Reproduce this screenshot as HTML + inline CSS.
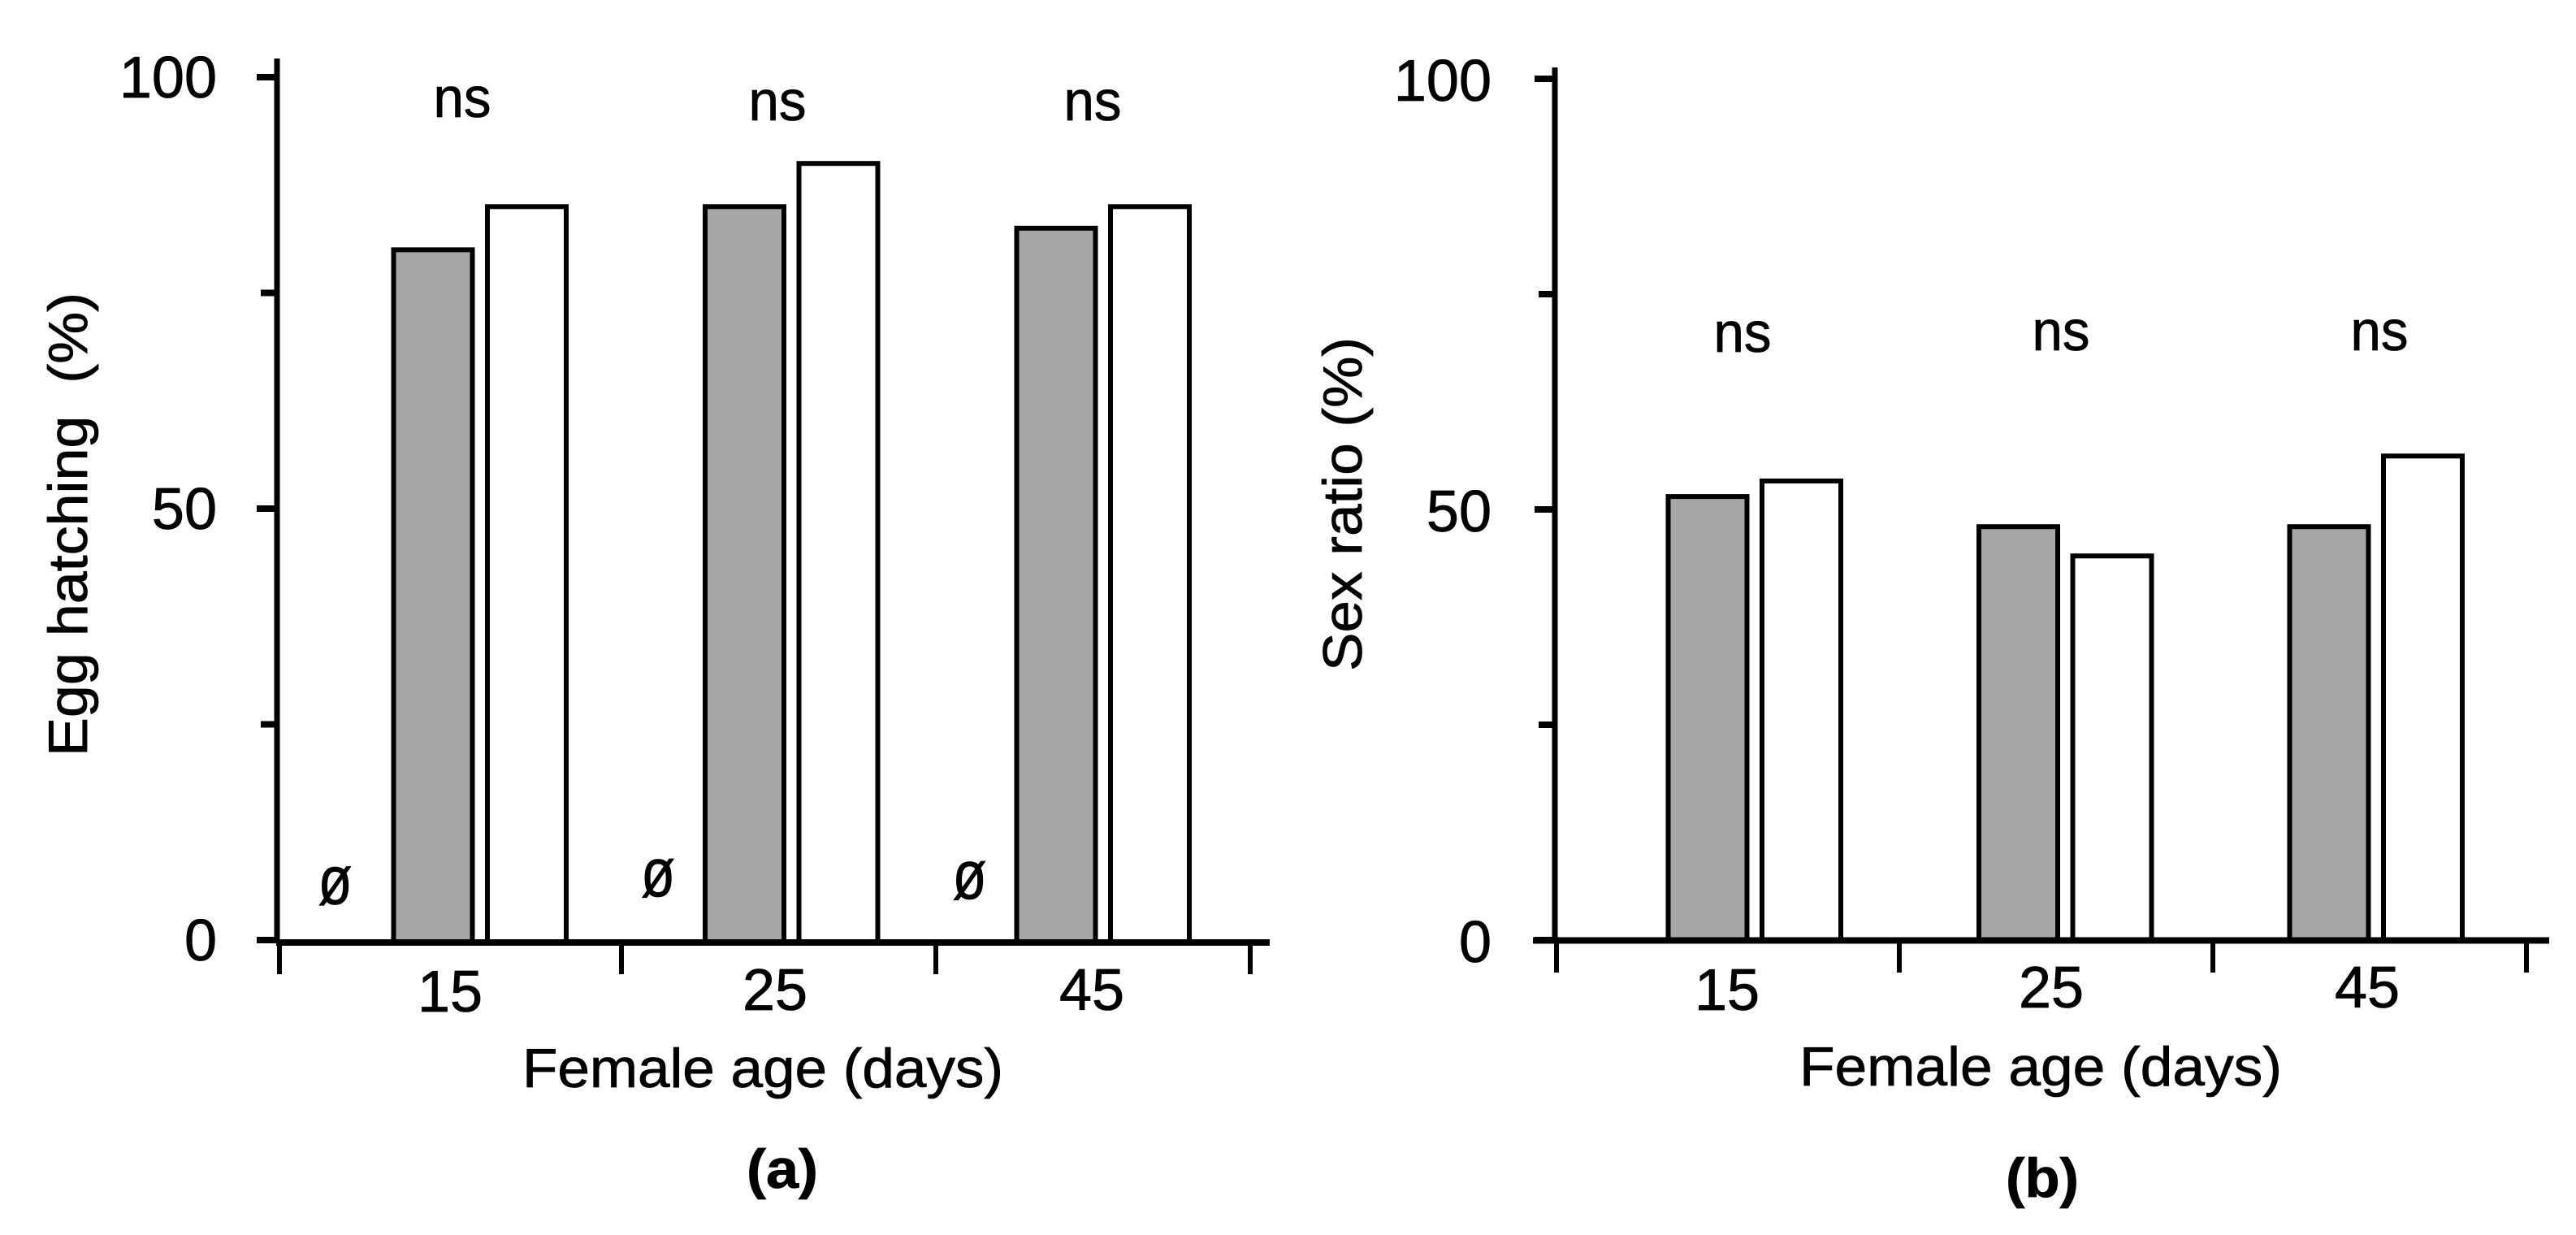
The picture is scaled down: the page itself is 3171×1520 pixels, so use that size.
<!DOCTYPE html>
<html lang="en">
<head>
<meta charset="utf-8">
<title>Egg hatching and sex ratio by female age</title>
<style>
  html, body { margin: 0; padding: 0; background: #fff; }
  svg { display: block; }
  text { font-family: "Liberation Sans", sans-serif; fill: #000; stroke: #000; stroke-width: 0.8px; }
</style>
</head>
<body>
<svg id="figure" xmlns="http://www.w3.org/2000/svg" width="3171" height="1520" viewBox="0 0 3171 1520">
  <rect x="0" y="0" width="3171" height="1520" fill="#ffffff"/>
  <g id="panel-a"></g>
  <g id="panel-b"></g>

  <text transform="translate(107 931) rotate(-90)" font-size="68" textLength="571" lengthAdjust="spacingAndGlyphs" xml:space="preserve">Egg hatching  (%)</text>
  <text transform="translate(1676 826) rotate(-90)" font-size="68" textLength="411" lengthAdjust="spacingAndGlyphs">Sex ratio (%)</text>
  <text x="643" y="1338" font-size="68" textLength="592" lengthAdjust="spacingAndGlyphs">Female age (days)</text>
  <text x="2215" y="1336" font-size="68" textLength="594" lengthAdjust="spacingAndGlyphs">Female age (days)</text>
  <text x="919" y="1462" font-size="68" font-weight="bold" textLength="88" lengthAdjust="spacingAndGlyphs">(a)</text>
  <text x="2469" y="1473" font-size="68" font-weight="bold" textLength="90" lengthAdjust="spacingAndGlyphs">(b)</text>
</svg>

<script>
// Shared axis data
const categories = ['15', '25', '45'];
const yTickValues = [0, 25, 50, 75, 100];
const yTickLabels = ['0', '', '50', '', '100'];
const significanceLabels = ['ns', 'ns', 'ns'];

// Panel (a): egg hatching (%)
const hatchingGrey = [80, 85, 82.5];
const hatchingWhite = [85, 90, 85];
const hatchingNullLevel = [4.2, 5.1, 4.8];

// Panel (b): sex ratio (%)
const sexRatioGrey = [51.5, 48, 48];
const sexRatioWhite = [53.3, 44.6, 56.2];

const SVG_NS = 'http://www.w3.org/2000/svg';

function make(parent, tag, attrs, content) {
  const el = document.createElementNS(SVG_NS, tag);
  for (const key in attrs) el.setAttribute(key, attrs[key]);
  if (content !== undefined) el.textContent = content;
  parent.appendChild(el);
  return el;
}

function drawPanel(cfg) {
  const root = document.getElementById(cfg.id);
  const yScale = function (v) { return cfg.y0 - (cfg.y0 - cfg.y100) * v / 100; };
  const barLeft = function (i, offset) { return cfg.barX0 + offset + i * cfg.barStep; };
  const xTick = function (i) { return i === 0 ? cfg.tickFirst : cfg.tickSecond + (i - 1) * cfg.tickStep; };
  const barW = 97;
  const strokeW = 6;

  categories.forEach(function (cat, i) {
    const greyTop = yScale(cfg.grey[i]);
    const greyBar = make(root, 'rect', {
      x: barLeft(i, 0), y: greyTop, width: barW, height: cfg.baseline - greyTop,
      fill: '#a6a6a6', stroke: '#000', 'stroke-width': strokeW
    });
    
    

    const whiteTop = yScale(cfg.white[i]);
    const whiteBar = make(root, 'rect', {
      x: barLeft(i, cfg.whiteOffset), y: whiteTop, width: barW, height: cfg.baseline - whiteTop,
      fill: '#ffffff', stroke: '#000', 'stroke-width': strokeW
    });
    
    

    const tickLabel = make(root, 'text', {
      x: cfg.labelX0 + i * cfg.labelStep + (i === 1 ? cfg.labelMidShift : 0), y: cfg.labelY - (i === 0 ? 0 : cfg.labelDrop),
      'font-size': 72, 'text-anchor': 'middle'
    }, cat);
    
    

    const sig = make(root, 'text', {
      x: cfg.nsX0 + i * cfg.nsStep, y: cfg.nsY - (i === 0 ? 0 : cfg.nsDrop),
      'font-size': 70, 'text-anchor': 'middle', textLength: 71, lengthAdjust: 'spacingAndGlyphs'
    }, significanceLabels[i]);
    
    

    if (cfg.nullLevel) {
      const marker = make(root, 'text', {
        x: barLeft(i, i === 0 ? -72 : -58), y: yScale(cfg.nullLevel[i]),
        'font-size': 84, 'text-anchor': 'middle', textLength: 42, lengthAdjust: 'spacingAndGlyphs'
      }, '\u00f8');
      
      
    }
  });

  // Y axis line
  const yAxis = make(root, 'rect', {
    x: cfg.axisX - 3.5, y: cfg.axisTop, width: 7, height: cfg.baseline - cfg.axisTop, fill: '#000'
  });
  
  

  // X axis line
  const xAxis = make(root, 'rect', {
    x: cfg.axisStart, y: cfg.baseline - 4, width: cfg.axisEnd - cfg.axisStart, height: 8, fill: '#000'
  });
  
  

  // X ticks: category boundaries
  for (let i = 0; i <= categories.length; i++) {
    const xt = make(root, 'rect', {
      x: xTick(i) - 3, y: cfg.baseline, width: 6, height: cfg.tickBottom - cfg.baseline, fill: '#000'
    });
    
    
  }

  // Y ticks and labels
  yTickValues.forEach(function (v, i) {
    const major = yTickLabels[i] !== '';
    const len = major ? 25 : 20;
    const yt = make(root, 'rect', {
      x: cfg.axisX - len, y: yScale(v) - 4, width: len, height: 8, fill: '#000'
    });
    
    
    if (major) {
      const yl = make(root, 'text', {
        x: cfg.yLabelRight, y: yScale(v) + cfg.yLabelDy, 'font-size': 72, 'text-anchor': 'end'
      }, yTickLabels[i]);
      
      
    }
  });
}

drawPanel({
  id: 'panel-a', grey: hatchingGrey, white: hatchingWhite, nullLevel: hatchingNullLevel,
  y0: 1157, y100: 95, baseline: 1160, axisX: 341, axisTop: 72, axisStart: 340, axisEnd: 1563,
  barX0: 484.5, barStep: 383.5, whiteOffset: 115.5,
  tickFirst: 344, tickSecond: 765, tickStep: 387, tickBottom: 1199,
  labelX0: 554, labelStep: 395, labelMidShift: 5, labelY: 1245, labelDrop: 2,
  nsX0: 569, nsStep: 388, nsY: 144, nsDrop: -4,
  yLabelRight: 267, yLabelDy: 25
});

drawPanel({
  id: 'panel-b', grey: sexRatioGrey, white: sexRatioWhite, nullLevel: null,
  y0: 1157, y100: 97, baseline: 1157.5, axisX: 1914, axisTop: 83, axisStart: 1887, axisEnd: 3138,
  barX0: 2053.5, barStep: 382.5, whiteOffset: 115.5,
  tickFirst: 1916, tickSecond: 2338, tickStep: 386, tickBottom: 1197,
  labelX0: 2126, labelStep: 394, labelMidShift: 5, labelY: 1243, labelDrop: 3,
  nsX0: 2145, nsStep: 392, nsY: 433, nsDrop: 2,
  yLabelRight: 1836, yLabelDy: 27
});
</script>
</body>
</html>
